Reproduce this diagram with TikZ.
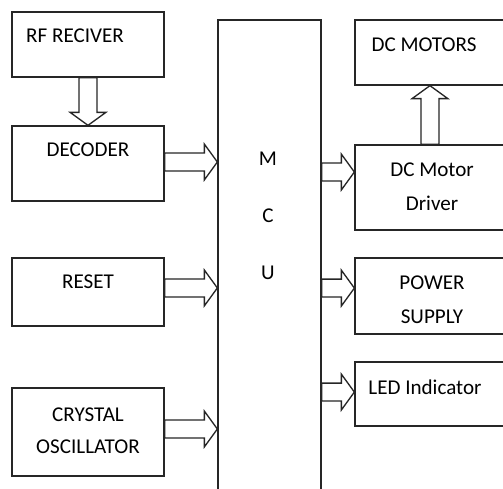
\documentclass[tikz,border=0pt]{standalone}
\usepackage{fontspec}
\setmainfont{Carlito}
\usetikzlibrary{calc}

\tikzset{
  block/.style={draw=black!85, line width=0.75pt, inner sep=0pt, minimum width=3.04cm},
  wide/.style={block, minimum width=3.3cm},
  txt/.style={font=\fontsize{12}{14}\selectfont, inner sep=0pt},
  hollow/.style={draw=black!85, line width=0.75pt, line join=miter, fill=white,
    to path={let \p1=(\tikztostart), \p2=(\tikztotarget),
      \n1={atan2(\y2-\y1,\x2-\x1)}, \n2={veclen(\x2-\x1,\y2-\y1)-7.4pt} in
      ++(\n1+90:5.1pt) -- ++(\n1:\n2) -- ++(\n1+90:5.1pt) -- (\p2)
      -- ($(\p2)+(\n1+180:7.4pt)+(\n1-90:10.2pt)$) -- ++(\n1+90:5.1pt)
      -- ++(\n1+180:\n2) -- cycle}}
}

\begin{document}
\begin{tikzpicture}[x=0.02cm, y=-0.02cm]
        \useasboundingbox (0,0) rectangle (503,489);
        \clip (0,0) rectangle (503,489);

        \node[block, minimum height=1.3cm] (rf) at (88,44.5) {};
        \node[block, minimum height=1.5cm] (dec) at (88,163.5) {};
        \node[block, minimum height=1.36cm] (reset) at (88,292) {};
        \node[block, minimum height=1.76cm] (xtal) at (88,432) {};

        \node[block, minimum width=2.06cm, minimum height=10cm] (mcu) at (269.5,270) {};

        \node[wide, minimum height=1.3cm] (motors) at (437.5,52.5) {};
        \node[wide, minimum height=1.7cm] (driver) at (437.5,187.5) {};
        \node[wide, minimum height=1.52cm] (power) at (437.5,296) {};
        \node[wide, minimum height=1.28cm] (led) at (437.5,394) {};

        \node[txt] (rftxt) at (75,36) {RF RECIVER};
        \node[txt] (dectxt) at (88,150) {DECODER};
        \node[txt] (resettxt) at (88,282) {RESET};
        \node[txt] (xtaltxt) at (88,415) {CRYSTAL};
        \node[txt] (osctxt) at (88,447) {OSCILLATOR};
        \foreach \ch [count=\i] in {M,C,U}
            \node[txt] (mcu\i) at (268,102+57*\i) {\ch};
        \node[txt] (motorstxt) at (424,45) {DC MOTORS};
        \node[txt] (drivertxt) at (432,170) {DC Motor};
        \node[txt] (drivertxtb) at (432,203) {Driver};
        \node[txt] (powertxt) at (432,283) {POWER};
        \node[txt] (powertxtb) at (432,317) {SUPPLY};
        \node[txt] (ledtxt) at (425,387) {LED Indicator};

        \draw[hollow] (rf.south) to (dec.north);
        \draw[hollow] ([yshift=0.85pt]dec.east) to ([yshift=0.85pt]dec.east -| mcu.west);
        \draw[hollow] ([yshift=2.3pt]reset.east) to ([yshift=2.3pt]reset.east -| mcu.west);
        \draw[hollow] ([yshift=1.7pt]xtal.east) to ([yshift=1.7pt]xtal.east -| mcu.west);
        \draw[hollow] ([yshift=8.8pt]driver.west -| mcu.east) to ([yshift=8.8pt]driver.west);
        \draw[hollow] ([yshift=4.5pt]power.west -| mcu.east) to ([yshift=4.5pt]power.west);
        \draw[hollow] ([yshift=1.1pt]led.west -| mcu.east) to ([yshift=1.1pt]led.west);
        \draw[hollow] ([xshift=-4.3pt]driver.north) to ([xshift=-4.3pt]motors.south);
        \end{tikzpicture}
\end{document}
